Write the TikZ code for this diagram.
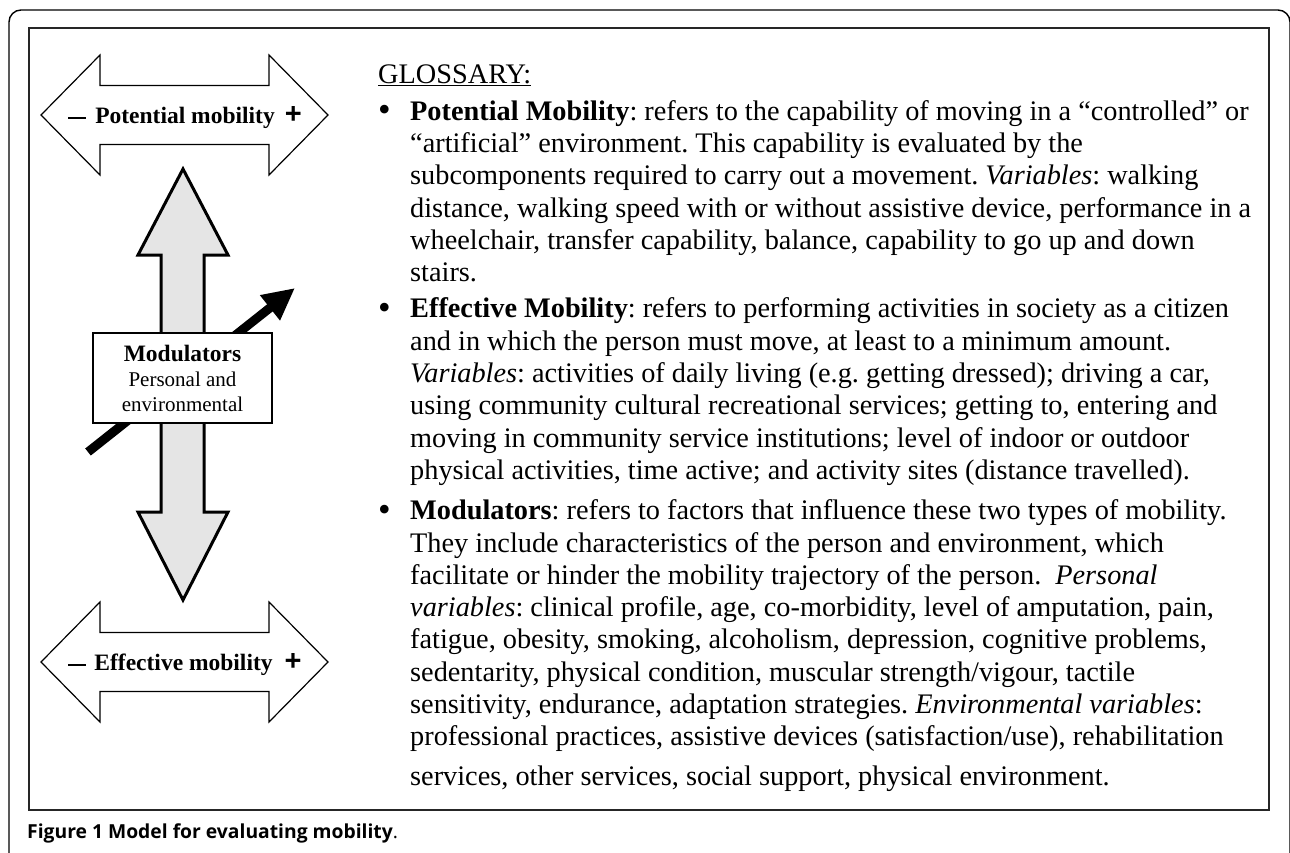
\documentclass[tikz,border=0pt]{standalone}
\usepackage{fontspec}
\setmainfont{Liberation Serif}
\newfontfamily\capfont{Open Sans}
\newfontfamily\plusfont{Liberation Sans}
\usetikzlibrary{arrows.meta,positioning}

\newcommand{\glossfont}{\fontsize{28.3}{32.3}\selectfont\frenchspacing}
\newcommand{\bul}{\raisebox{-1.5pt}{\fontsize{36}{0}\selectfont\textbullet}}
\newcommand{\barplus}{{\plusfont\bfseries\fontsize{29}{0}\selectfont +}}

\begin{document}
\begin{tikzpicture}[x=1pt,y=-1pt,
    bar/.style={draw,line width=1.2pt,fill=white,line join=miter},
    fat/.style={draw,line width=3pt,fill=gray!20,line join=miter},
    barlabel/.style={anchor=base,inner sep=0pt,font=\fontsize{23.5}{26}\selectfont\bfseries},
    modbox/.style={draw,line width=2.5pt,fill=white,align=center,inner sep=0pt,
      minimum width=179pt,minimum height=90pt,font=\fontsize{21}{25}\selectfont}]
  \useasboundingbox (0,0) rectangle (1290,852);

  % outer frame and inner box
  \draw[line width=1.4pt,rounded corners=12pt] (9,880) -- (9,10) -- (1290,10) -- (1290,880);
  \draw[line width=2.5pt,black!85] (29,28) rectangle (1269,810);

  \def\ytop{115};
  \def\ybot{662};

  % potential mobility bar
  \draw[bar] (41,\ytop) -- (100,{\ytop-60}) -- (100,{\ytop-29.5}) -- (269,{\ytop-29.5})
    -- (269,{\ytop-60}) -- (328,\ytop) -- (269,{\ytop+60}) -- (269,{\ytop+29.5})
    -- (100,{\ytop+29.5}) -- (100,{\ytop+60}) -- cycle;

  % effective mobility bar
  \draw[bar] (41,\ybot) -- (100,{\ybot-60}) -- (100,{\ybot-29.5}) -- (269,{\ybot-29.5})
    -- (269,{\ybot-60}) -- (328,\ybot) -- (269,{\ybot+60}) -- (269,{\ybot+29.5})
    -- (100,{\ybot+29.5}) -- (100,{\ybot+60}) -- cycle;

  \node[barlabel] (potlab) at (185,{\ytop+8})
    {\rule[4pt]{18pt}{2.5pt}\hspace{9pt}Potential mobility\hspace{10pt}\barplus};
  \node[barlabel] (efflab) at (185,{\ybot+8})
    {\rule[4pt]{18pt}{2.5pt}\hspace{8pt}Effective mobility\hspace{12pt}\barplus};

  % gray arrow, up and down
  \draw[fat] (183,169) -- (228,255) -- (204,255) -- (204,512) -- (228,512) -- (183,600)
    -- (138,512) -- (161,512) -- (161,255) -- (138,255) -- cycle;

  % black arrow, runs under the box
  \coordinate (tail) at (88,452);
  \coordinate (tip) at (295,288);
  \draw[line width=9pt,-{Triangle[length=32pt,width=30pt]}] (tail) -- (tip);

  \node[modbox] (mod) at (182.5,378)
    {{\fontsize{23.5}{25}\selectfont\bfseries Modulators}\\Personal and\\environmental};

  % glossary
  \node[anchor=north west,inner sep=0pt,font=\glossfont] (gloss) at (378,61) {%
    \begin{tabular}{@{}p{32pt}@{}l@{}}
      \multicolumn{2}{@{}l@{}}{\underline{GLOSSARY:}}\\[4pt]
      \bul & \textbf{Potential Mobility}: refers to the capability of moving in a “controlled” or\\
        & “artificial” environment. This capability is evaluated by the\\
        & subcomponents required to carry out a movement. \textit{Variables}: walking\\
        & distance, walking speed with or without assistive device, performance in a\\
        & wheelchair, transfer capability, balance, capability to go up and down\\
        & stairs.\\[4pt]
      \bul & \textbf{Effective Mobility}: refers to performing activities in society as a citizen\\
        & and in which the person must move, at least to a minimum amount.\\
        & \textit{Variables}: activities of daily living (e.g. getting dressed); driving a car,\\
        & using community cultural recreational services; getting to, entering and\\
        & moving in community service institutions; level of indoor or outdoor\\
        & physical activities, time active; and activity sites (distance travelled).\\[8pt]
      \bul & \textbf{Modulators}: refers to factors that influence these two types of mobility.\\
        & They include characteristics of the person and environment, which\\
        & facilitate or hinder the mobility trajectory of the person.\ \ \textit{Personal}\\
        & \textit{variables}: clinical profile, age, co-morbidity, level of amputation, pain,\\
        & fatigue, obesity, smoking, alcoholism, depression, cognitive problems,\\
        & sedentarity, physical condition, muscular strength/vigour, tactile\\
        & sensitivity, endurance, adaptation strategies. \textit{Environmental variables}:\\
        & professional practices, assistive devices (satisfaction/use), rehabilitation\\[7pt]
        & services, other services, social support, physical environment.
    \end{tabular}};

  % caption
  \node[anchor=west,inner sep=0pt,font=\capfont\fontsize{19.3}{22}\selectfont] (cap) at (27,833)
    {\textbf{Figure 1 Model for evaluating mobility}.};
\end{tikzpicture}
\end{document}
